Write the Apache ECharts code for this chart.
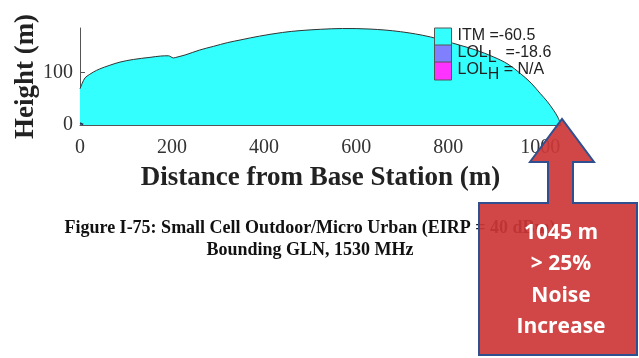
<!DOCTYPE html>
<html><head><meta charset="utf-8">
<script src="https://cdn.jsdelivr.net/npm/echarts@6/dist/echarts.min.js"></script>
<style>html,body{margin:0;padding:0;background:#fff}#c{width:639px;height:358px}</style>
</head><body><div id="c"></div>
<script>
// Terrain / coverage profile (distance m, height m)
var itmDistance = [0,5,11,20,29,43,65,87,116,152,175,192,203,213,230,260,290,320,350,390,440,478,522,570,630,696,761,826,860,898,930,957,980,1000,1015,1029,1038,1045];
var itmHeight   = [69,80,90,96,101,107,114,120,125,129,131.5,132,128,130,134,143,150,157,162.5,169.5,176.5,180,182.5,184,183,178,168,152,143,130,116,98,80,60,45,28,15,0];
var lolLDistance = [0,7];
var lolLHeight = [4,1];
var xTicks = [0,200,400,600,800,1000];
var yTicks = [0,100];
var legendNames = ['ITM','LOL_L','LOL_H'];
var legendValues = ['=-60.5','=-18.6','= N/A'];

function pairs(xs, ys){ return xs.map(function(x,i){ return [x, ys[i]]; }); }

var chart = echarts.init(document.getElementById('c'), null, {renderer:'canvas'});
var serif = 'Liberation Serif';
var opt = {
  animation:false,
  grid:{left:80, right:78, top:28, bottom:233, outerBoundsMode:'none'},
  xAxis:{type:'value', min:0, max:1045, interval:200,
    name:'Distance from Base Station (m)', nameLocation:'middle', nameGap:40, nameMoveOverlap:false,
    nameTextStyle:{fontFamily:serif, fontWeight:'bold', fontSize:27, color:'#222'},
    axisLine:{show:true, lineStyle:{color:'#555', width:1}},
    axisTick:{show:true, inside:true, length:5, customValues:xTicks, lineStyle:{color:'#555'}},
    axisLabel:{customValues:xTicks, formatter:function(v){return String(v);}, fontFamily:serif, fontSize:20, color:'#333', margin:13},
    splitLine:{show:false}},
  yAxis:{type:'value', min:0, max:185, interval:100,
    name:'Height (m)', nameLocation:'middle', nameGap:40, nameRotate:90, nameMoveOverlap:false,
    nameTextStyle:{fontFamily:serif, fontWeight:'bold', fontSize:27, color:'#222'},
    axisLine:{show:true, lineStyle:{color:'#555', width:1}},
    axisTick:{show:true, inside:true, length:5, customValues:yTicks, lineStyle:{color:'#555'}},
    axisLabel:{customValues:yTicks, formatter:function(v){return String(v);}, fontFamily:serif, fontSize:20, color:'#333', margin:7},
    splitLine:{show:false}},
  legend:{orient:'vertical', left:429, top:20, itemWidth:17, itemHeight:18, itemGap:-7,
    data:[
      {name:'ITM', icon:'rect', itemStyle:{color:'#33ffff', borderColor:'#555', borderWidth:1}},
      {name:'LOL_L', icon:'rect', itemStyle:{color:'#8080ff', borderColor:'#555', borderWidth:1}},
      {name:'LOL_H', icon:'rect', itemStyle:{color:'#ff33ff', borderColor:'#555', borderWidth:1}}
    ],
    formatter:function(n){
      var i = legendNames.indexOf(n);
      if(n==='ITM') return '{n|ITM ' + legendValues[i] + '}{s| }';
      var sub = n.split('_')[1];
      return '{n|LOL}{s|' + sub + '}{n|' + (sub==='L' ? '  ' : ' ') + legendValues[i] + '}';
    },
    textStyle:{fontFamily:'Liberation Sans', fontSize:16, color:'#222', padding:[0,0,0,1],
      rich:{
        n:{fontFamily:'Liberation Sans', fontSize:16, color:'#222', lineHeight:18, verticalAlign:'top'},
        s:{fontFamily:'Liberation Sans', fontSize:16, color:'#222', lineHeight:18, padding:[8,0,0,0]}
      }}
  },
  series:[
    {name:'ITM', type:'line', data:pairs(itmDistance,itmHeight), smooth:0.35, symbol:'none',
      lineStyle:{color:'#333', width:1}, itemStyle:{color:'#33ffff'},
      areaStyle:{color:'#33ffff', opacity:1}},
    {name:'LOL_L', type:'line', data:pairs(lolLDistance,lolLHeight), symbol:'none',
      lineStyle:{color:'#334', width:1.5}, itemStyle:{color:'#8080ff'},
      areaStyle:{color:'#5050a0', opacity:1}},
    {name:'LOL_H', type:'line', data:[], symbol:'none', itemStyle:{color:'#ff33ff'}}
  ],
  graphic:[
    {type:'text', x:310, y:218, z:10,
      style:{text:'Figure I-75: Small Cell Outdoor/Micro Urban (EIRP = 40 dBm)\nBounding GLN, 1530 MHz',
        font:'bold 18px "Liberation Serif"', fill:'#111', align:'center', lineHeight:21.5}},
    {type:'polygon', z:20,
      shape:{points:[[479,203],[548,203],[548,162],[530,162],[562,119],[594,162],[573,162],[573,203],[637,203],[637,355],[479,355]]},
      style:{fill:'rgba(205,55,55,0.92)', stroke:'#2f4f8f', lineWidth:2}},
    {type:'text', z:21, x:561, y:217,
      style:{text:'1045 m\n> 25%\nNoise\nIncrease', font:'bold 21px "Open Sans"', fill:'#fff', align:'center', lineHeight:31.5}}
  ]
};
chart.setOption(opt);
</script></body></html>
